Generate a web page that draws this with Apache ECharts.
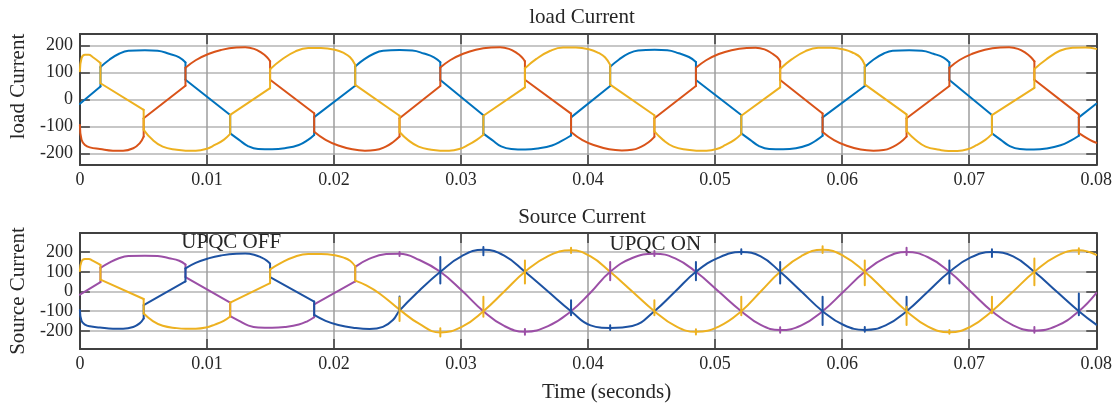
<!DOCTYPE html>
<html>
<head>
<meta charset="utf-8">
<title>load Current / Source Current</title>
<script src="https://cdn.jsdelivr.net/npm/echarts@6.0.0/dist/echarts.min.js"></script>
<style>
  html, body { margin: 0; background: #fff; }
  #chart { width: 1115px; height: 406px; }
</style>
</head>
<body>
<div id="chart"></div>
<script>
// values: [time (s), current]
// two points with the same time = a vertical jump (commutation)
const loadBlue = [
  [0,-16],[0.00162,48],[0.00162,120],
  [0.00232,147],[0.00312,170],[0.00382,180],[0.00512,182],[0.00612,180],[0.00702,169],[0.00782,156],[0.00831,137],
  [0.00831,73],[0.01183,-57],[0.01183,-125],
  [0.01253,-149],[0.01323,-172],[0.01403,-183],[0.01513,-184],[0.01613,-180],[0.01723,-168],[0.01793,-150],[0.01844,-131],
  [0.01844,-65],[0.02167,51],[0.02167,122],
  [0.02237,148],[0.02317,170],[0.02387,180],[0.02517,183],[0.02617,181],[0.02707,170],[0.02787,156],[0.02837,138],
  [0.02837,72],[0.03176,-58],[0.03176,-126],
  [0.03246,-150],[0.03316,-173],[0.03396,-183],[0.03506,-185],[0.03606,-181],[0.03716,-170],[0.03796,-152],[0.03866,-133],
  [0.03866,-66],[0.04174,50],[0.04174,121],
  [0.04244,148],[0.04324,171],[0.04394,181],[0.04524,184],[0.04624,182],[0.04714,171],[0.04794,157],[0.04849,139],
  [0.04849,72],[0.05206,-57],[0.05206,-125],
  [0.05276,-149],[0.05346,-172],[0.05426,-183],[0.05536,-184],[0.05636,-180],[0.05736,-167],[0.05796,-151],[0.05846,-134],
  [0.05846,-66],[0.06178,50],[0.06178,120],
  [0.06248,148],[0.06328,170],[0.06398,180],[0.06528,182],[0.06628,180],[0.06718,169],[0.06798,155],[0.06844,137],
  [0.06844,72],[0.07179,-57],[0.07179,-125],
  [0.07249,-149],[0.07319,-172],[0.07399,-183],[0.07509,-185],[0.07609,-181],[0.07719,-169],[0.07799,-152],[0.07863,-134],
  [0.07863,-66],[0.08,-16]
];

const loadOrange = [
  [0,-94],[0.00013,-149],[0.0004,-168],[0.00078,-177],[0.00157,-183],[0.0026,-189],[0.0034,-189],[0.0042,-180],[0.0047,-162],[0.00502,-137],
  [0.00502,-69],[0.00831,51],[0.00831,117],
  [0.00911,145],[0.01011,168],[0.01111,183],[0.01231,192],[0.01301,193],[0.01371,187],[0.01431,172],[0.01471,157],[0.01497,141],
  [0.01497,73],[0.01844,-51],[0.01844,-119],
  [0.01934,-149],[0.02034,-170],[0.02144,-184],[0.02244,-189],[0.02324,-187],[0.02404,-175],[0.02464,-158],[0.02516,-137],
  [0.02516,-69],[0.02837,50],[0.02837,118],
  [0.02917,146],[0.03017,169],[0.03117,184],[0.03237,192],[0.03307,193],[0.03377,187],[0.03437,172],[0.03477,157],[0.03503,141],
  [0.03503,73],[0.03866,-52],[0.03866,-120],
  [0.03956,-150],[0.04056,-170],[0.04166,-184],[0.04266,-188],[0.04346,-186],[0.04416,-175],[0.04476,-158],[0.04522,-138],
  [0.04522,-69],[0.04849,50],[0.04849,117],
  [0.04929,145],[0.05029,168],[0.05129,182],[0.05249,190],[0.05319,191],[0.05389,185],[0.05449,170],[0.05489,156],[0.05512,140],
  [0.05512,72],[0.05846,-52],[0.05846,-120],
  [0.05936,-150],[0.06036,-171],[0.06146,-185],[0.06246,-189],[0.06326,-187],[0.06396,-176],[0.06456,-159],[0.06507,-137],
  [0.06507,-69],[0.06844,50],[0.06844,117],
  [0.06924,146],[0.07024,169],[0.07124,184],[0.07244,192],[0.07314,193],[0.07384,187],[0.07444,172],[0.07484,157],[0.07513,141],
  [0.07513,73],[0.07863,-55],[0.07863,-124],
  [0.07953,-150],[0.08,-160]
];

const loadYellow = [
  [0,104],[0.00013,153],[0.0004,165],[0.0007,165],[0.001,157],[0.00162,135],
  [0.00162,60],[0.00502,-38],[0.00502,-112],
  [0.00572,-149],[0.00652,-174],[0.00762,-186],[0.00832,-189],[0.00912,-189],[0.00992,-183],[0.01062,-168],[0.01132,-149],[0.01183,-127],
  [0.01183,-57],[0.01497,42],[0.01497,112],
  [0.01587,147],[0.01697,178],[0.01797,190],[0.01897,190],[0.02007,184],[0.02077,172],[0.02127,156],[0.02167,128],
  [0.02167,54],[0.02516,-60],[0.02516,-120],
  [0.02586,-151],[0.02666,-174],[0.02766,-186],[0.02836,-189],[0.02906,-189],[0.02986,-183],[0.03056,-168],[0.03126,-148],[0.03176,-130],
  [0.03176,-60],[0.03503,45],[0.03503,115],
  [0.03593,150],[0.03703,180],[0.03803,192],[0.03903,192],[0.04013,185],[0.04083,172],[0.04133,156],[0.04174,128],
  [0.04174,55],[0.04522,-58],[0.04522,-118],
  [0.04592,-150],[0.04672,-174],[0.04782,-186],[0.04852,-189],[0.04932,-189],[0.05012,-183],[0.05082,-168],[0.05152,-149],[0.05206,-128],
  [0.05206,-60],[0.05512,45],[0.05512,113],
  [0.05602,148],[0.05712,179],[0.05812,191],[0.05912,191],[0.06022,184],[0.06092,171],[0.06142,156],[0.06178,128],
  [0.06178,56],[0.06507,-55],[0.06507,-117],
  [0.06577,-149],[0.06657,-174],[0.06767,-186],[0.06837,-190],[0.06907,-190],[0.06987,-184],[0.07057,-169],[0.07127,-149],[0.07179,-128],
  [0.07179,-58],[0.07513,43],[0.07513,113],
  [0.07603,147],[0.07713,180],[0.07813,191],[0.07913,192],[0.08,187]
];

// source current: same as the load current until the UPQC takes over, then sinusoidal
function upTo(pts, t) {
  const i = pts.findIndex(p => p[0] >= t);
  return pts.slice(0, i + 1);
}

const srcPurple = upTo(loadBlue, 0.02167).concat([
  [0.02167,125],[0.0228,167],[0.02411,190],[0.02516,192],[0.02673,160],[0.02837,100],[0.03006,5],
  [0.03176,-100],[0.0334,-175],[0.03503,-204],[0.03685,-176],[0.03866,-100],[0.0402,-5],
  [0.04174,100],[0.04348,170],[0.04522,192],[0.04686,168],[0.04849,100],[0.05028,0],
  [0.05206,-100],[0.05359,-170],[0.05512,-196],[0.05679,-172],[0.05846,-100],[0.06012,0],
  [0.06178,100],[0.06342,172],[0.06507,200],[0.06676,174],[0.06844,100],[0.07012,0],
  [0.07179,-100],[0.07346,-172],[0.07513,-199],[0.07688,-175],[0.07863,-100],[0.08,-8]
]);

const srcBlue = upTo(loadOrange, 0.01844).concat([
  [0.01844,-119],[0.01934,-149],[0.02034,-170],[0.0215,-184],[0.0228,-191],[0.02385,-180],[0.02464,-145],
  [0.02516,-97],[0.02673,5],[0.02837,100],[0.03006,180],[0.03176,212],[0.0334,182],[0.03503,100],
  [0.03685,0],[0.03866,-100],[0.0402,-172],[0.04174,-185],[0.04348,-175],[0.04522,-100],[0.04686,0],
  [0.04849,100],[0.05028,172],[0.05206,200],[0.05359,178],[0.05512,100],[0.05679,0],
  [0.05846,-100],[0.06012,-170],[0.06178,-195],[0.06342,-172],[0.06507,-100],[0.06676,0],
  [0.06844,100],[0.07012,173],[0.07179,200],[0.07346,178],[0.07513,100],[0.07688,0],
  [0.07863,-100],[0.08,-168]
]);

const srcYellow = upTo(loadYellow, 0.02167).concat([
  [0.02167,55],[0.0225,32],[0.02358,-10],[0.02516,-92],[0.02673,-165],[0.02837,-208],[0.03006,-180],
  [0.03176,-100],[0.0334,0],[0.03503,100],[0.03685,180],[0.03866,209],[0.0402,178],
  [0.04174,100],[0.04348,0],[0.04522,-100],[0.04686,-175],[0.04849,-205],[0.05028,-178],
  [0.05206,-100],[0.05359,0],[0.05512,100],[0.05679,180],[0.05846,212],[0.06012,180],
  [0.06178,100],[0.06342,0],[0.06507,-100],[0.06676,-178],[0.06844,-207],[0.07012,-178],
  [0.07179,-100],[0.07346,0],[0.07513,100],[0.07688,180],[0.07863,209],[0.08,186]
]);

// switching spikes on the source current: [time, low, high]
const spikesBlue = [
  [0.02516,-95,-25],[0.02837,40,175],[0.03176,184,226],[0.03866,-120,-44],[0.04174,-195,-172],
  [0.04849,57,150],[0.05206,190,215],[0.05512,40,150],[0.05846,-170,-27],[0.06178,-205,-180],
  [0.06507,-94,-27],[0.06844,40,158],[0.07179,175,215],[0.07863,-120,-10]
];
const spikesPurple = [
  [0.02516,180,200],[0.03503,-220,-190],[0.04174,57,150],[0.04522,180,205],
  [0.05512,-210,-182],[0.06507,185,222],[0.07513,-210,-180]
];
const spikesYellow = [
  [0.02516,-150,-30],[0.02837,-229,-187],[0.03176,-128,-27],[0.03503,40,158],[0.03866,195,222],
  [0.04522,-120,-44],[0.04849,-218,-192],[0.05206,-120,-27],[0.05846,195,230],[0.06178,32,158],
  [0.06507,-170,-78],[0.06844,-215,-195],[0.07179,-111,-27],[0.07513,32,167],[0.07863,190,220]
];

const yTicks = [-200, -100, 0, 100, 200];
const notes = [['UPQC OFF', 0.01195, 245], ['UPQC ON', 0.04533, 234]];

const FONT = 'Liberation Serif';
const TXT = '#262626';
const AX = '#404040';
const LW = 2;

// split a waveform at its vertical jumps: curved pieces get smoothed, jumps and ramps stay straight
function pieces(pts) {
  const runs = [];
  let cur = [pts[0]];
  for (let i = 1; i < pts.length; i++) {
    if (pts[i][0] === pts[i - 1][0]) {
      runs.push(cur);
      runs.push([pts[i - 1], pts[i]]);
      cur = [pts[i]];
    } else {
      cur.push(pts[i]);
    }
  }
  runs.push(cur);
  return runs.filter(r => r.length > 1);
}

function wave(pts, color, g) {
  return pieces(pts).map(r => ({
    type: 'line',
    data: r,
    xAxisIndex: g * 2,
    yAxisIndex: g * 2,
    smooth: r.length > 2 ? 0.45 : false,
    symbol: 'none',
    silent: true,
    lineStyle: { color: color, width: LW, cap: 'round', join: 'round' }
  }));
}

function spikes(list, color) {
  const data = [];
  list.forEach(s => { data.push([s[0], s[1]], [s[0], s[2]], [s[0], '-']); });
  return {
    type: 'line',
    data: data,
    xAxisIndex: 2,
    yAxisIndex: 2,
    symbol: 'none',
    silent: true,
    lineStyle: { color: color, width: LW, cap: 'round' }
  };
}

function xAxes(g) {
  const base = {
    type: 'value', gridIndex: g, min: 0, max: 0.08, interval: 0.01,
    axisLine: { show: true, onZero: false, lineStyle: { color: AX, width: 2 } },
    axisTick: { show: true, inside: true, length: 10, lineStyle: { color: AX, width: 1.5 } }
  };
  const bottom = Object.assign({}, base, {
    position: 'bottom',
    axisLabel: {
      color: TXT, fontFamily: FONT, fontSize: 18, margin: 6,
      formatter: v => String(+v.toFixed(2))
    },
    splitLine: { show: true, lineStyle: { color: '#9e9e9e', width: 1.5 } }
  });
  if (g === 1) {
    bottom.name = 'Time (seconds)';
    bottom.nameLocation = 'middle';
    bottom.nameGap = 33;
    bottom.nameTextStyle = { color: TXT, fontFamily: FONT, fontSize: 21, padding: [0, 0, 0, 37] };
  }
  const top = Object.assign({}, base, {
    position: 'top', axisLabel: { show: false }, splitLine: { show: false }
  });
  return [bottom, top];
}

function yAxes(g, name, lo, hi, shift) {
  const base = {
    type: 'value', gridIndex: g, min: lo, max: hi,
    axisLine: { show: true, onZero: false, lineStyle: { color: AX, width: 2 } },
    axisTick: { show: true, inside: true, length: 10, customValues: yTicks, lineStyle: { color: AX, width: 1.5 } }
  };
  const left = Object.assign({}, base, {
    position: 'left',
    axisLabel: { customValues: yTicks, color: TXT, fontFamily: FONT, fontSize: 18, margin: 7 },
    splitLine: { show: true, lineStyle: { color: '#b4b4b4', width: 1.5 } },
    name: name,
    nameLocation: 'middle',
    nameGap: 50,
    nameTextStyle: { color: TXT, fontFamily: FONT, fontSize: 21, padding: [0, 0, 0, shift] }
  });
  const right = Object.assign({}, base, {
    position: 'right', axisLabel: { show: false }, splitLine: { show: false }
  });
  return [left, right];
}

const COL = {
  blue: '#0072BD', orange: '#D95319', yellow: '#EDB120',
  srcBlue: '#1d52a2', purple: '#9b4fa6'
};

const series = [].concat(
  wave(loadBlue, COL.blue, 0),
  wave(loadOrange, COL.orange, 0),
  wave(loadYellow, COL.yellow, 0),
  wave(srcPurple, COL.purple, 1),
  wave(srcBlue, COL.srcBlue, 1),
  wave(srcYellow, COL.yellow, 1),
  [spikes(spikesPurple, COL.purple), spikes(spikesBlue, COL.srcBlue), spikes(spikesYellow, COL.yellow)],
  [{
    type: 'scatter',
    xAxisIndex: 2, yAxisIndex: 2,
    symbolSize: 1,
    silent: true,
    z: 10,
    itemStyle: { color: '#ffffff', opacity: 0 },
    data: notes.map(n => ({ name: n[0], value: [n[1], n[2]] })),
    label: {
      show: true, position: [0, 0], align: 'center', verticalAlign: 'middle',
      formatter: p => p.name, opacity: 1,
      color: TXT, textBorderWidth: 0, fontFamily: FONT, fontSize: 21
    }
  }]
);

const chart = echarts.init(document.getElementById('chart'), null, { renderer: 'canvas' });
chart.setOption({
  backgroundColor: '#ffffff',
  animation: false,
  grid: [
    { left: 79, right: 14, top: 34, height: 131 },
    { left: 79, right: 14, top: 233, height: 116 }
  ],
  xAxis: xAxes(0).concat(xAxes(1)),
  yAxis: yAxes(0, 'load Current', -242, 242, 26).concat(yAxes(1, 'Source Current', -292, 297, 0)),
  graphic: [
    { type: 'text', x: 582, y: 17, silent: true,
      style: { text: 'load Current', fill: TXT, font: '21px "Liberation Serif"', align: 'center', verticalAlign: 'middle' } },
    { type: 'text', x: 582, y: 217, silent: true,
      style: { text: 'Source Current', fill: TXT, font: '21px "Liberation Serif"', align: 'center', verticalAlign: 'middle' } }
  ],
  series: series
});
</script>
</body>
</html>
